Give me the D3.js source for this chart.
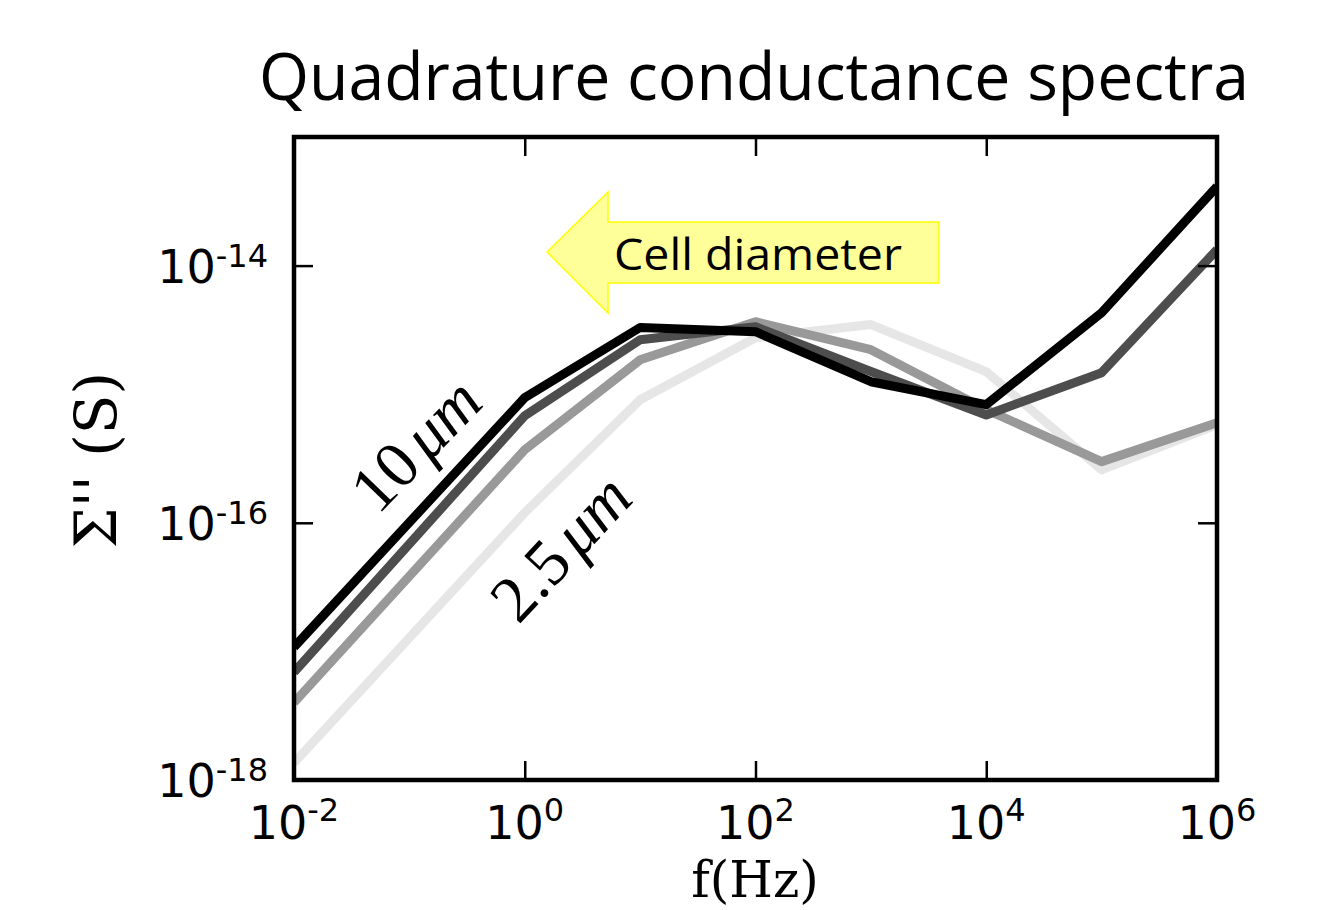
<!DOCTYPE html>
<html>
<head>
<meta charset="utf-8">
<script src="https://cdn.jsdelivr.net/npm/d3@7"></script>
<style>
  body { margin: 0; background: #fff; }
</style>
</head>
<body>
<div id="chart"></div>
<script>
// frequencies (Hz) and quadrature conductance (S)
const freqs = [1e-2, 1e0, 1e1, 1e2, 1e3, 1e4, 1e5, 1e6];
const sigma10um = [1.08e-17, 9.4e-16, 3.3e-15, 3.06e-15, 1.25e-15, 8.3e-16, 4.3e-15, 4.12e-14];
const sigmaB = [6.9e-18, 6.8e-16, 2.65e-15, 3.35e-15, 1.5e-15, 6.9e-16, 1.47e-15, 1.33e-14];
const sigmaC = [4.0e-18, 3.7e-16, 1.85e-15, 3.66e-15, 2.22e-15, 7.6e-16, 2.99e-16, 6.0e-16];
const sigma2_5um = [1.36e-18, 1.2e-16, 9.06e-16, 2.75e-15, 3.48e-15, 1.5e-15, 2.58e-16, 5.8e-16];
const seriesColors = ["#e6e6e6", "#999999", "#4d4d4d", "#000000"];
const xTicks = [1e-2, 1e0, 1e2, 1e4, 1e6];
const xTickExp = ["-2", "0", "2", "4", "6"];
const yTicks = [1e-18, 1e-16, 1e-14];
const yTickExp = ["-18", "-16", "-14"];

const W = 1323, H = 910;
const margin = { top: 137, right: 106, bottom: 130, left: 294 };
const width = W - margin.left - margin.right;
const height = H - margin.top - margin.bottom;

const svg = d3.select("#chart").append("svg")
  .attr("width", W).attr("height", H)
  .style("font-family", "'DejaVu Sans', sans-serif");

const g = svg.append("g").attr("transform", `translate(${margin.left},${margin.top})`);

const x = d3.scaleLog().domain([1e-2, 1e6]).range([0, width]);
const y = d3.scaleLog().domain([1e-18, 1e-13]).range([height, 0]);

// lines, lightest first so the dark ones sit on top
const series = [sigma2_5um, sigmaC, sigmaB, sigma10um];
g.append("clipPath").attr("id", "clip")
  .append("rect").attr("width", width).attr("height", height);

const line = d3.line()
  .x((d, i) => x(freqs[i]))
  .y(d => y(d));

g.append("g").attr("clip-path", "url(#clip)")
  .selectAll("path")
  .data(series)
  .join("path")
  .attr("d", line)
  .attr("fill", "none")
  .attr("stroke", (d, i) => seriesColors[i])
  .attr("stroke-width", 9)
  .attr("stroke-linejoin", "round");

// inward ticks on all sides
const tickLen = 19;
function styleAxis(sel) {
  sel.select(".domain").remove();
  sel.selectAll(".tick line").attr("stroke", "#000").attr("stroke-width", 2.5);
  sel.selectAll(".tick text").remove();
}
g.append("g").attr("transform", `translate(0,${height})`)
  .call(d3.axisBottom(x).tickValues(xTicks).tickSize(-tickLen).tickFormat(""))
  .call(styleAxis);
g.append("g")
  .call(d3.axisTop(x).tickValues(xTicks).tickSize(-tickLen).tickFormat(""))
  .call(styleAxis);
g.append("g")
  .call(d3.axisLeft(y).tickValues(yTicks).tickSize(-tickLen).tickFormat(""))
  .call(styleAxis);
g.append("g").attr("transform", `translate(${width},0)`)
  .call(d3.axisRight(y).tickValues(yTicks).tickSize(-tickLen).tickFormat(""))
  .call(styleAxis);

// frame
g.append("rect")
  .attr("width", width).attr("height", height)
  .attr("fill", "none").attr("stroke", "#000").attr("stroke-width", 4.5);

// tick labels with superscripts
const xl = g.append("g").selectAll("text")
  .data(xTicks)
  .join("text")
  .attr("x", d => x(d))
  .attr("y", height + 59)
  .attr("text-anchor", "middle")
  .attr("font-size", 46);
xl.append("tspan").text("10");
xl.append("tspan").attr("font-size", 32).attr("dy", -18).text((d, i) => xTickExp[i]);

const yl = g.append("g").selectAll("text")
  .data(yTicks)
  .join("text")
  .attr("x", -26)
  .attr("y", d => y(d) + 17)
  .attr("text-anchor", "end")
  .attr("font-size", 46);
yl.append("tspan").text("10");
yl.append("tspan").attr("font-size", 32).attr("dy", -16).text((d, i) => yTickExp[i]);

// axis titles
svg.append("text")
  .attr("x", 755).attr("y", 897)
  .attr("text-anchor", "middle")
  .attr("font-family", "'DejaVu Serif', serif")
  .attr("font-size", 50)
  .text("f(Hz)");

svg.append("text")
  .attr("transform", "translate(116,460) rotate(-90)")
  .attr("text-anchor", "middle")
  .attr("font-family", "'DejaVu Serif', serif")
  .attr("font-size", 58)
  .text("\u03A3'' (S)");

// chart title
svg.append("text")
  .attr("x", 754).attr("y", 100)
  .attr("text-anchor", "middle")
  .attr("font-family", "'Open Sans', sans-serif")
  .attr("font-size", 66)
  .attr("textLength", 990)
  .attr("lengthAdjust", "spacingAndGlyphs")
  .text("Quadrature conductance spectra");

// yellow arrow annotation
svg.append("path")
  .attr("d", "M547,252 L608,192 L608,222 L939,222 L939,283 L608,283 L608,313 Z")
  .attr("fill", "#ffff99")
  .attr("stroke", "#ffff00")
  .attr("stroke-width", 1.5);
svg.append("text")
  .attr("x", 614).attr("y", 270)
  .attr("font-family", "'Open Sans', sans-serif")
  .attr("font-size", 44)
  .attr("textLength", 288)
  .attr("lengthAdjust", "spacingAndGlyphs")
  .text("Cell diameter");

// diameter labels along the curves
function sizeLabel(cx, cy, ang, num) {
  const t = svg.append("text")
    .attr("transform", `translate(${cx},${cy}) rotate(${ang})`)
    .attr("text-anchor", "middle")
    .attr("dy", "0.33em")
    .attr("font-family", "'Liberation Serif', 'Times New Roman', serif")
    .attr("font-size", 66);
  t.append("tspan").text(num);
  t.append("tspan").attr("dx", 8).attr("font-style", "italic").text("\u03BCm");
}
sizeLabel(416, 445, -46, "10");
sizeLabel(561, 548, -47, "2.5");
</script>
</body>
</html>
